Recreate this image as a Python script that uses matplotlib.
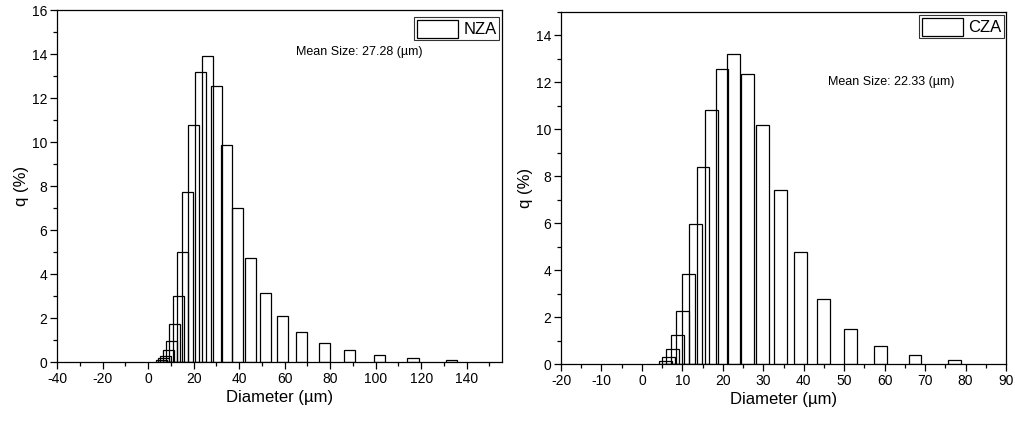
import matplotlib
matplotlib.use("Agg")
import matplotlib.pyplot as plt
from matplotlib.ticker import MultipleLocator

plt.rcParams['font.family'] = ['Liberation Sans', 'DejaVu Sans']
plt.rcParams['axes.unicode_minus'] = False

# ---- data ----
nza_diam = [5.9, 6.8, 7.8, 8.9, 10.2, 11.6, 13.3, 15.3, 17.5, 20.0, 22.9, 26.2,
            30.0, 34.4, 39.3, 45.0, 51.6, 59.0, 67.6, 77.5, 88.7, 101.6, 116.4, 133.3]
nza_q = [0.08, 0.17, 0.29, 0.53, 0.95, 1.71, 2.99, 5.00, 7.71, 10.76, 13.17, 13.90,
         12.53, 9.86, 6.98, 4.72, 3.15, 2.08, 1.36, 0.85, 0.55, 0.32, 0.18, 0.08]

cza_diam = [5.9, 6.6, 7.6, 8.8, 10.1, 11.5, 13.2, 15.1, 17.3, 19.8, 22.7, 26.1,
            29.9, 34.2, 39.2, 45.0, 51.5, 58.9, 67.5, 77.3]
cza_q = [0.12, 0.30, 0.65, 1.25, 2.25, 3.83, 5.95, 8.40, 10.81, 12.58, 13.20, 12.34,
         10.20, 7.40, 4.76, 2.75, 1.48, 0.77, 0.37, 0.18]

W, H = 1015, 425
panels = [
    dict(x=nza_diam, y=nza_q, width=4.85, name="NZA", mean="Mean Size: 27.28 (\u00b5m)",
         xlim=(-40, 155.5), ylim=(0, 16), xmin=10,
         xticks=list(range(-40, 141, 20)), yticks=list(range(0, 17, 2)),
         box=(57, 10, 502, 362), mean_xy=(296, 52), leg_xy=(499, 17)),
    dict(x=cza_diam, y=cza_q, width=3.2, name="CZA", mean="Mean Size: 22.33 (\u00b5m)",
         xlim=(-20, 90), ylim=(0, 15), xmin=5,
         xticks=list(range(-20, 91, 10)), yticks=list(range(0, 15, 2)),
         box=(561, 12, 1006, 364), mean_xy=(828, 82), leg_xy=(1004, 15)),
]

fig = plt.figure(figsize=(W / 100, H / 100), dpi=100)

for p in panels:
    x0, y0, x1, y1 = p['box']
    ax = fig.add_axes([x0 / W, 1 - y1 / H, (x1 - x0) / W, (y1 - y0) / H])
    ax.bar(p['x'], p['y'], width=p['width'], facecolor='none', edgecolor='black',
           linewidth=0.9, label=p['name'])
    ax.set_xlim(*p['xlim'])
    ax.set_ylim(*p['ylim'])
    ax.set_xticks(p['xticks'])
    ax.set_yticks(p['yticks'])
    ax.xaxis.set_minor_locator(MultipleLocator(p['xmin']))
    ax.yaxis.set_minor_locator(MultipleLocator(1))
    ax.tick_params(which='major', direction='out', length=5, width=0.9, labelsize=10,
                   pad=2, colors='black')
    ax.tick_params(which='minor', direction='out', length=3, width=0.9)
    for s in ax.spines.values():
        s.set_linewidth(0.9)
    ax.set_xlabel("Diameter (\u00b5m)", fontsize=12, labelpad=3)
    ax.set_ylabel("q (%)", fontsize=12, labelpad=2)
    lx, ly = p['leg_xy']
    leg = ax.legend(loc='upper right', bbox_to_anchor=(lx / W, 1 - ly / H),
                    bbox_transform=fig.transFigure, borderaxespad=0,
                    fontsize=12, frameon=True, fancybox=False,
                    edgecolor='black', borderpad=0.15, handlelength=2.5, handleheight=1.3,
                    handletextpad=0.3)
    leg.get_frame().set_linewidth(0.8)
    for h in leg.legend_handles:
        h.set_facecolor('white')
    fx = p['mean_xy'][0] / W
    fy = 1 - p['mean_xy'][1] / H
    fig.text(fx, fy, p['mean'], fontsize=9, ha='left', va='center')

fig.savefig("out.png", dpi=100)
